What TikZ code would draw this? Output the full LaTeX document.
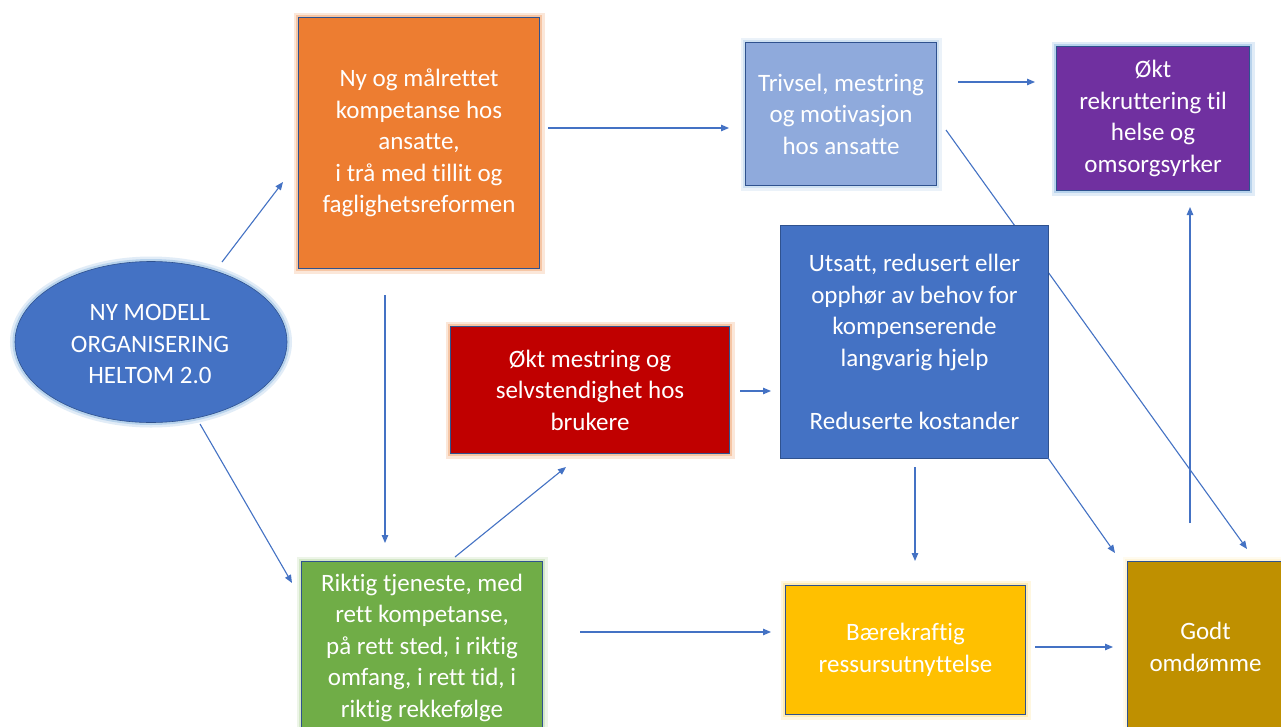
\documentclass[tikz,border=0pt]{standalone}
\usepackage{fontspec}
\setmainfont{Carlito}[Ligatures=NoCommon]
\usetikzlibrary{shapes.geometric,arrows.meta}
\definecolor{bordc}{HTML}{2F528F}
\definecolor{arrc}{HTML}{4472C4}
\definecolor{corange}{HTML}{ED7D31}
\definecolor{gorange}{HTML}{F4B183}
\definecolor{ctriv}{HTML}{8FAADC}
\definecolor{gblue}{HTML}{BDD7EE}
\definecolor{cpurple}{HTML}{7030A0}
\definecolor{gpurple}{HTML}{9DC3E6}
\definecolor{cblue}{HTML}{4472C4}
\definecolor{cred}{HTML}{C00000}
\definecolor{cgreen}{HTML}{70AD47}
\definecolor{ggreen}{HTML}{C5E0B4}
\definecolor{cyellow}{HTML}{FFC000}
\definecolor{gyellow}{HTML}{FFE699}
\definecolor{cgold}{HTML}{BF9000}
\definecolor{ggold}{HTML}{FFF2CC}
\begin{document}
\begin{tikzpicture}[x=1pt,y=-1pt,
  txt/.style={text=white, align=center, inner sep=0pt,
    font=\fontsize{25}{31.5}\selectfont},
  box/.style={txt, draw=bordc, line width=1pt, anchor=north west},
  glow/.style={preaction={draw=#1, line width=10pt, opacity=0.3},
               preaction={draw=#1, line width=5pt, opacity=0.6}},
  conn/.style={draw=arrc, line width=1.1pt, -{Triangle[length=8pt,width=6.5pt]}}]
\useasboundingbox (0,0) rectangle (1281,726);
\clip (0,0) rectangle (1281,726);
\fill[white] (0,0) rectangle (1281,726);
% line behind the Utsatt box
\coordinate (t2s) at (946,130);
\coordinate (t2e) at (1247,549);
\draw[conn] (t2s) -- (t2e);
% nodes
\node[ellipse, fill=cblue, draw=bordc, line width=0.6pt, glow=gpurple, inner sep=0pt, minimum width=272, minimum height=161] (ny) at (151,342) {};
\node[txt] (nytext) at (150,344) {NY MODELL\\ORGANISERING\\HELTOM 2.0};
\node[box, fill=corange, glow=gorange, minimum width=241, minimum height=251] (ora) at (298,17)
  {Ny og målrettet\\kompetanse hos\\ansatte,\\ i trå med tillit og\\faglighetsreformen};
\node[box, fill=ctriv, glow=gblue, minimum width=191, minimum height=143] (triv) at (745,42)
  {Trivsel, mestring\\og motivasjon\\hos ansatte};
\node[box, fill=cpurple, glow=gpurple, minimum width=193, minimum height=144] (rekr) at (1056,46)
  {Økt\\rekruttering til\\helse og\\omsorgsyrker};
\node[box, fill=cblue, minimum width=268, minimum height=233] (uts) at (780,225)
  {Utsatt, redusert eller\\opphør av behov for\\kompenserende\\langvarig hjelp\\[31.5pt]Reduserte kostander};
\node[box, fill=cred, glow=gorange, minimum width=279, minimum height=127] (mest) at (450,326)
  {Økt mestring og\\selvstendighet hos\\brukere};
\node[box, fill=cgreen, glow=ggreen, minimum width=241, minimum height=172] (rikt) at (301,561)
  {Riktig tjeneste, med\\rett kompetanse,\\på rett sted, i riktig\\omfang, i rett tid, i\\riktig rekkefølge};
\node[box, fill=cyellow, glow=gyellow, minimum width=240, minimum height=129] (baer) at (785,585)
  {Bærekraftig\\ressursutnyttelse};
\node[box, fill=cgold, glow=ggold, minimum width=156, minimum height=172] (godt) at (1127,561)
  {Godt\\omdømme};
% connector end points
\coordinate (a1s) at (222,262); \coordinate (a1e) at (283,182);
\coordinate (a2s) at (200,424); \coordinate (a2e) at (292,583);
\coordinate (a3s) at (385,295); \coordinate (a3e) at (385,543);
\coordinate (a4s) at (455,557); \coordinate (a4e) at (566,467);
\coordinate (a5s) at (548,128); \coordinate (a5e) at (729,128);
\coordinate (a6s) at (958,82);  \coordinate (a6e) at (1035,82);
\coordinate (a7s) at (740,391); \coordinate (a7e) at (771,391);
\coordinate (a9s) at (1048,458); \coordinate (a9e) at (1115,553);
\coordinate (a10s) at (915,467); \coordinate (a10e) at (915,561);
\coordinate (a11s) at (580,632); \coordinate (a11e) at (771,632);
\coordinate (a12s) at (1035,647); \coordinate (a12e) at (1113,647);
\coordinate (a13s) at (1190,523); \coordinate (a13e) at (1190,207);
% connectors
\draw[conn] (a1s) -- (a1e);
\draw[conn] (a2s) -- (a2e);
\draw[conn] (a3s) -- (a3e);
\draw[conn] (a4s) -- (a4e);
\draw[conn] (a5s) -- (a5e);
\draw[conn] (a6s) -- (a6e);
\draw[conn] (a7s) -- (a7e);
\draw[conn] (a9s) -- (a9e);
\draw[conn] (a10s) -- (a10e);
\draw[conn] (a11s) -- (a11e);
\draw[conn] (a12s) -- (a12e);
\draw[conn] (a13s) -- (a13e);
\end{tikzpicture}
\end{document}
